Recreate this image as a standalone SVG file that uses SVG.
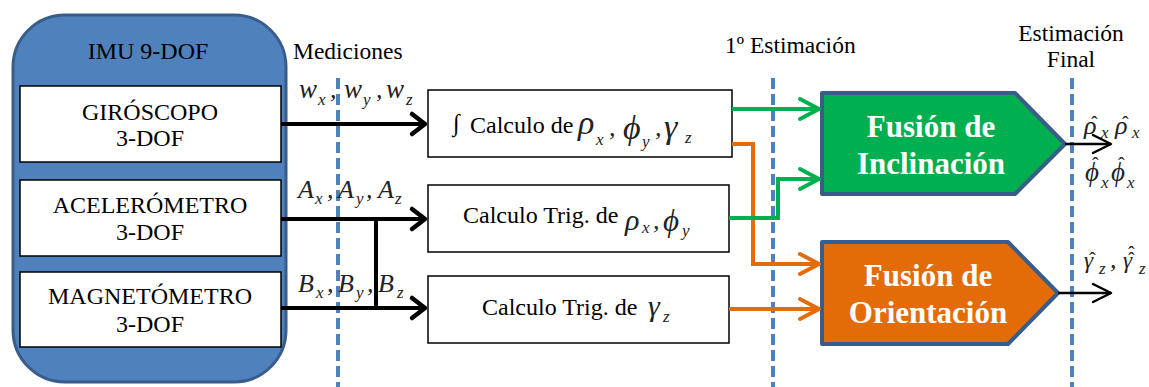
<svg xmlns="http://www.w3.org/2000/svg" width="1149" height="387" viewBox="0 0 1149 387" font-family="'Liberation Serif','Times New Roman','DejaVu Serif',serif">
<style>
text{font-family:"Liberation Serif","Times New Roman","DejaVu Serif",serif;fill:#000}
.lbl{font-size:24px;text-anchor:middle}
.hdr{font-size:23.5px}
.c{font-size:24px}
.m{font-style:italic;fill:#222}
.mid{font-size:26px}
.sub{font-size:17px}
.hat{font-size:20px;font-style:normal;fill:#222}
.box{fill:#fff;stroke:#000;stroke-width:1.5}
.blk{stroke:#000;stroke-width:4;fill:none}
.grn{stroke:#00B050;stroke-width:4;fill:none}
.org{stroke:#E36C09;stroke-width:4;fill:none}
.thin{stroke:#000;stroke-width:2.5;fill:none}
.dash{stroke:#4F81BD;stroke-width:4;stroke-dasharray:11 5;fill:none}
.fus{font-size:31px;font-weight:bold;fill:#fff;text-anchor:middle}
</style>
<defs>
<marker id="ab" markerWidth="10" markerHeight="10" refX="0" refY="0" orient="auto" markerUnits="userSpaceOnUse" overflow="visible"><path d="M-13,-10 L0,0 L-13,10" fill="none" stroke="#000" stroke-width="4.5" stroke-linecap="round" stroke-linejoin="round"/></marker>
<marker id="ag" markerWidth="10" markerHeight="10" refX="0" refY="0" orient="auto" markerUnits="userSpaceOnUse" overflow="visible"><path d="M-19,-10 L0,0 L-19,10" fill="none" stroke="#00B050" stroke-width="4" stroke-linecap="round" stroke-linejoin="round"/></marker>
<marker id="ao" markerWidth="10" markerHeight="10" refX="0" refY="0" orient="auto" markerUnits="userSpaceOnUse" overflow="visible"><path d="M-19,-10 L0,0 L-19,10" fill="none" stroke="#E36C09" stroke-width="4" stroke-linecap="round" stroke-linejoin="round"/></marker>
<marker id="at" markerWidth="10" markerHeight="10" refX="0" refY="0" orient="auto" markerUnits="userSpaceOnUse" overflow="visible"><path d="M-18,-9 L0,0 L-18,9" fill="none" stroke="#000" stroke-width="2.5" stroke-linecap="round" stroke-linejoin="round"/></marker>
</defs>
<rect width="1149" height="387" fill="#fff"/>

<g id="imu">
<rect x="13" y="15" width="273" height="367" rx="52" ry="52" fill="#4F81BD" stroke="#385D8A" stroke-width="3"/>
<text class="lbl" x="148" y="59">IMU 9-DOF</text>
</g>
<g id="giroscopo">
<rect class="box" x="20" y="86" width="261" height="76"/>
<text class="lbl" x="150" y="120">GIRÓSCOPO</text>
<text class="lbl" x="150" y="146">3-DOF</text>
</g>
<g id="acelerometro">
<rect class="box" x="20" y="180" width="261" height="76"/>
<text class="lbl" x="150" y="213">ACELERÓMETRO</text>
<text class="lbl" x="150" y="240">3-DOF</text>
</g>
<g id="magnetometro">
<rect class="box" x="20" y="272" width="261" height="75"/>
<text class="lbl" x="150" y="304">MAGNETÓMETRO</text>
<text class="lbl" x="150" y="332">3-DOF</text>
</g>

<g id="headers">
<text class="hdr" x="293" y="59">Mediciones</text>
<text class="hdr" x="725" y="53">1º Estimación</text>
<text class="hdr" x="1071" y="41" text-anchor="middle">Estimación</text>
<text class="hdr" x="1071" y="67" text-anchor="middle">Final</text>
</g>

<g id="dashes">
<line class="dash" x1="338" y1="78" x2="338" y2="387"/>
<line class="dash" x1="773" y1="78" x2="773" y2="387"/>
<line class="dash" x1="1072" y1="78" x2="1072" y2="387"/>
</g>

<g id="calc-int">
<rect class="box" x="428" y="90" width="304" height="67"/>
<text class="c" x="453" y="131" font-size="26">∫</text>
<text class="c" x="470" y="133">Calculo de</text>
<text class="m" font-size="34" x="578" y="134">ρ</text>
<text class="m sub" x="596" y="145">x</text>
<text class="m mid" x="609" y="136">,</text>
<text class="m" font-size="34" x="623" y="139">ϕ</text>
<text class="m sub" x="642" y="147">y</text>
<text class="m mid" x="655" y="136">,</text>
<text class="m" font-size="34" x="664" y="138">γ</text>
<text class="m sub" x="685" y="143">z</text>
</g>
<g id="calc-trig-rp">
<rect class="box" x="428" y="185" width="301" height="67"/>
<text class="c" x="463" y="223">Calculo Trig. de</text>
<text class="m" font-size="30" x="625" y="230">ρ</text>
<text class="m sub" x="642" y="233">x</text>
<text class="m mid" x="653" y="229">,</text>
<text class="m" font-size="31" x="663" y="231">ϕ</text>
<text class="m sub" x="682" y="236">y</text>
</g>
<g id="calc-trig-g">
<rect class="box" x="428" y="276" width="301" height="67"/>
<text class="c" x="482" y="315" font-size="24.5">Calculo Trig. de</text>
<text class="m" font-size="30" x="648" y="316">γ</text>
<text class="m sub" x="663" y="322">z</text>
</g>

<g id="fusion-inclinacion">
<path d="M822,93 H1015 L1065,144 L1015,194 H822 Z" fill="#00B050" stroke="#385D8A" stroke-width="4" stroke-linejoin="round"/>
<text class="fus" x="931" y="137">Fusión de</text>
<text class="fus" x="931" y="174">Inclinación</text>
</g>
<g id="fusion-orientacion">
<path d="M822,242 H1008 L1058,293 L1008,344 H822 Z" fill="#E36C09" stroke="#385D8A" stroke-width="4" stroke-linejoin="round"/>
<text class="fus" x="928" y="286">Fusión de</text>
<text class="fus" x="928" y="323">Orientación</text>
</g>

<g id="connectors">
<line class="blk" x1="281" y1="124" x2="425" y2="124" marker-end="url(#ab)"/>
<line class="blk" x1="281" y1="219" x2="425" y2="219" marker-end="url(#ab)"/>
<line class="blk" x1="281" y1="308" x2="425" y2="308" marker-end="url(#ab)"/>
<line class="blk" x1="376" y1="219" x2="376" y2="308"/>
<line class="grn" x1="732" y1="109" x2="819" y2="109" marker-end="url(#ag)"/>
<polyline class="org" points="732,144 753,144 753,264 819,264" marker-end="url(#ao)"/>
<polyline class="grn" points="729,218 778,218 778,179 819,179" marker-end="url(#ag)"/>
<line class="org" x1="729" y1="309" x2="819" y2="309" marker-end="url(#ao)"/>
<line class="thin" x1="1065" y1="144" x2="1111" y2="144" marker-end="url(#at)"/>
<line class="thin" x1="1058" y1="293" x2="1111" y2="293" marker-end="url(#at)"/>
</g>

<g id="labels">
<text class="m" font-size="27" x="299" y="98">w</text>
<text class="m sub" x="318" y="105">x</text>
<text class="m mid" x="330" y="98">,</text>
<text class="m" font-size="27" x="344" y="98">w</text>
<text class="m sub" x="363" y="105">y</text>
<text class="m mid" x="376" y="98">,</text>
<text class="m" font-size="27" x="386" y="98">w</text>
<text class="m sub" x="406" y="105">z</text>

<text class="m" font-size="26" x="298" y="198">A</text>
<text class="m sub" x="315" y="204">x</text>
<text class="m mid" x="327" y="198">,</text>
<text class="m" font-size="26" x="338" y="198">A</text>
<text class="m sub" x="356" y="204">y</text>
<text class="m mid" x="366" y="198">,</text>
<text class="m" font-size="26" x="378" y="198">A</text>
<text class="m sub" x="395" y="204">z</text>

<text class="m" font-size="26" x="298" y="292">B</text>
<text class="m sub" x="316" y="298">x</text>
<text class="m mid" x="327" y="292">,</text>
<text class="m" font-size="26" x="338" y="292">B</text>
<text class="m sub" x="356" y="298">y</text>
<text class="m mid" x="367" y="292">,</text>
<text class="m" font-size="26" x="378" y="292">B</text>
<text class="m sub" x="397" y="298">z</text>

<text class="m" font-size="26" x="1084" y="134">ρ</text>
<text class="hat" x="1091" y="131">ˆ</text>
<text class="m sub" x="1101" y="138">x</text>
<text class="m" font-size="26" x="1115" y="134">ρ</text>
<text class="hat" x="1122" y="131">ˆ</text>
<text class="m sub" x="1132" y="138">x</text>

<text class="m" font-size="27" x="1085" y="181">ϕ</text>
<text class="hat" x="1092" y="172">ˆ</text>
<text class="m sub" x="1101" y="188">x</text>
<text class="m" font-size="27" x="1111" y="181">ϕ</text>
<text class="hat" x="1118" y="172">ˆ</text>
<text class="m sub" x="1127" y="188">x</text>

<text class="m" font-size="23" x="1084" y="268">γ</text>
<text class="hat" x="1089" y="267">ˆ</text>
<text class="m sub" x="1099" y="274">z</text>
<text class="m mid" x="1110" y="268">,</text>
<text class="m" font-size="23" x="1123" y="268">γ</text>
<text class="hat" x="1128" y="267">ˆ</text>
<text class="hat" x="1128" y="261">ˆ</text>
<text class="m sub" x="1139" y="274">z</text>
</g>
</svg>
